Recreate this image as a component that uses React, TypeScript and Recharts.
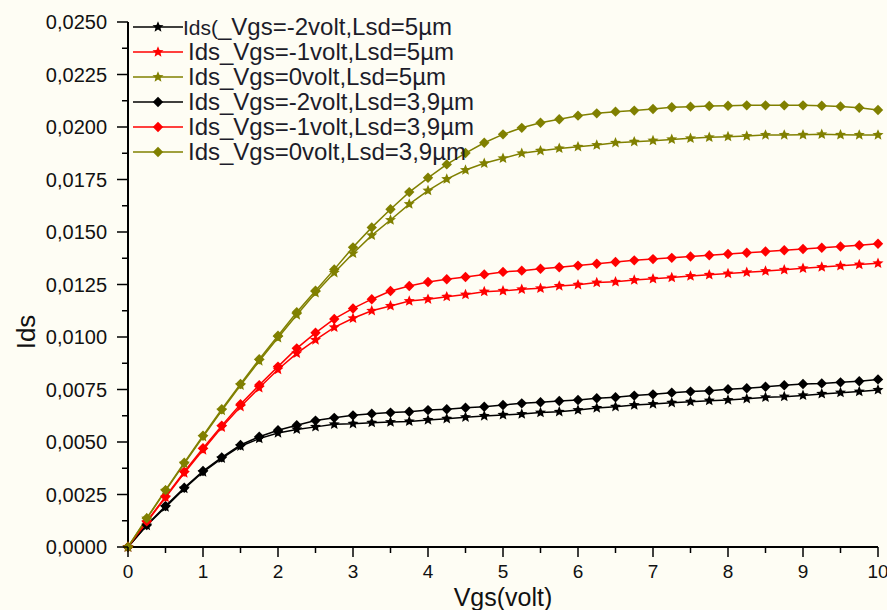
import { Label, Legend, Line, LineChart, XAxis, YAxis } from 'recharts';

// Vgs sweep, 0.25 V step
const vgs = [
  0, 0.25, 0.5, 0.75, 1, 1.25, 1.5, 1.75, 2, 2.25, 2.5, 2.75, 3, 3.25, 3.5, 3.75, 4, 4.25, 4.5, 4.75, 5,
  5.25, 5.5, 5.75, 6, 6.25, 6.5, 6.75, 7, 7.25, 7.5, 7.75, 8, 8.25, 8.5, 8.75, 9, 9.25, 9.5, 9.75, 10,
];

// Lsd = 5 µm (star markers)
const idsVgsM2Lsd5 = [
  0, 0.00102, 0.0019, 0.00278, 0.00357, 0.00422, 0.0048, 0.00516, 0.00543, 0.0056, 0.00572, 0.00584, 0.00587,
  0.00592, 0.00595, 0.00598, 0.00605, 0.00611, 0.00618, 0.00624, 0.00629, 0.00633, 0.0064, 0.00644, 0.00652,
  0.00662, 0.00668, 0.00676, 0.00681, 0.00687, 0.00692, 0.00697, 0.007, 0.00706, 0.00713, 0.00716, 0.00722,
  0.00729, 0.00735, 0.0074, 0.00748,
];
const idsVgsM1Lsd5 = [
  0, 0.00118, 0.00236, 0.00352, 0.00462, 0.0057, 0.00668, 0.00758, 0.00845, 0.00922, 0.00986, 0.01046, 0.01089,
  0.01125, 0.01148, 0.01171, 0.0118, 0.01192, 0.01202, 0.01216, 0.0122, 0.01227, 0.01232, 0.01243, 0.01249,
  0.01259, 0.01263, 0.01271, 0.01277, 0.01283, 0.0129, 0.01296, 0.01302, 0.01308, 0.01314, 0.0132, 0.01327,
  0.01333, 0.01339, 0.01345, 0.01351,
];
const idsVgs0Lsd5 = [
  0, 0.00135, 0.00268, 0.00397, 0.00525, 0.0065, 0.0077, 0.00886, 0.00996, 0.01105, 0.0121, 0.01306, 0.01398,
  0.01484, 0.01557, 0.01633, 0.01697, 0.01752, 0.01795, 0.01827, 0.01851, 0.01875, 0.01887, 0.01898, 0.01906,
  0.01914, 0.01925, 0.0193, 0.01935, 0.01941, 0.01946, 0.01951, 0.01954, 0.01957, 0.01962, 0.01962, 0.01963,
  0.01965, 0.01963, 0.01962, 0.01962,
];

// Lsd = 3,9 µm (diamond markers)
const idsVgsM2Lsd39 = [
  0, 0.00105, 0.00195, 0.00282, 0.00362, 0.00427, 0.00486, 0.00525, 0.00556, 0.0058, 0.00602, 0.00615, 0.00627,
  0.00635, 0.0064, 0.00644, 0.00652, 0.00656, 0.00663, 0.00668, 0.00676, 0.00684, 0.00689, 0.00695, 0.007,
  0.00708, 0.00713, 0.00721, 0.00727, 0.00735, 0.0074, 0.00744, 0.00751, 0.00756, 0.00763, 0.0077, 0.00776,
  0.00779, 0.00784, 0.00789, 0.00798,
];
const idsVgsM1Lsd39 = [
  0, 0.00122, 0.0024, 0.00359, 0.0047, 0.00578, 0.0068, 0.00771, 0.00859, 0.00946, 0.0102, 0.01086, 0.01136,
  0.0118, 0.01219, 0.01243, 0.01262, 0.01275, 0.01286, 0.01298, 0.0131, 0.01316, 0.01325, 0.01332, 0.0134,
  0.01349, 0.01357, 0.01365, 0.01371, 0.01377, 0.01383, 0.01389, 0.01395, 0.01401, 0.01407, 0.01413, 0.01419,
  0.01425, 0.01431, 0.01437, 0.01444,
];
const idsVgs0Lsd39 = [
  0, 0.00137, 0.00271, 0.00401, 0.0053, 0.00656, 0.00776, 0.00894, 0.01006, 0.01118, 0.0122, 0.01322, 0.01427,
  0.01522, 0.01608, 0.0169, 0.01758, 0.01822, 0.01876, 0.01925, 0.01965, 0.01996, 0.0202, 0.02037, 0.02054,
  0.02065, 0.02073, 0.02078, 0.02086, 0.02094, 0.02097, 0.021, 0.02101, 0.02103, 0.02103, 0.02103, 0.02103,
  0.02101, 0.02098, 0.02092, 0.02081,
];

// every other tick is a labelled major tick
const xTicks = [0, 0.5, 1, 1.5, 2, 2.5, 3, 3.5, 4, 4.5, 5, 5.5, 6, 6.5, 7, 7.5, 8, 8.5, 9, 9.5, 10];
const yTicks = [
  0, 0.00125, 0.0025, 0.00375, 0.005, 0.00625, 0.0075, 0.00875, 0.01, 0.01125, 0.0125, 0.01375, 0.015,
  0.01625, 0.0175, 0.01875, 0.02, 0.02125, 0.0225, 0.02375, 0.025,
];

const FONT = '"Liberation Sans", Arial, sans-serif';
const BG = '#fefdf4';

type Marker = 'star' | 'diamond';

const series: { key: string; name: string; color: string; marker: Marker; values: number[] }[] = [
  { key: 'm2l5', name: 'Ids(_Vgs=-2volt,Lsd=5µm', color: '#000000', marker: 'star', values: idsVgsM2Lsd5 },
  { key: 'm1l5', name: 'Ids_Vgs=-1volt,Lsd=5µm', color: '#ff0000', marker: 'star', values: idsVgsM1Lsd5 },
  { key: 'z0l5', name: 'Ids_Vgs=0volt,Lsd=5µm', color: '#808000', marker: 'star', values: idsVgs0Lsd5 },
  { key: 'm2l39', name: 'Ids_Vgs=-2volt,Lsd=3,9µm', color: '#000000', marker: 'diamond', values: idsVgsM2Lsd39 },
  { key: 'm1l39', name: 'Ids_Vgs=-1volt,Lsd=3,9µm', color: '#ff0000', marker: 'diamond', values: idsVgsM1Lsd39 },
  { key: 'z0l39', name: 'Ids_Vgs=0volt,Lsd=3,9µm', color: '#808000', marker: 'diamond', values: idsVgs0Lsd39 },
];

const data = vgs.map((v, i) => {
  const row: Record<string, number> = { vgs: v };
  series.forEach((s) => (row[s.key] = s.values[i]));
  return row;
});

function starPoints(cx: number, cy: number, r: number) {
  const pts: string[] = [];
  for (let k = 0; k < 10; k++) {
    const rad = k % 2 === 0 ? r : r * 0.45;
    const a = -Math.PI / 2 + (k * Math.PI) / 5;
    pts.push(`${cx + rad * Math.cos(a)},${cy + rad * Math.sin(a)}`);
  }
  return pts.join(' ');
}

function MarkerShape({ cx, cy, marker, color }: { cx: number; cy: number; marker: Marker; color: string }) {
  if (marker === 'star') return <polygon points={starPoints(cx, cy, 5.8)} fill={color} />;
  return <polygon points={`${cx},${cy - 5.2} ${cx + 5.2},${cy} ${cx},${cy + 5.2} ${cx - 5.2},${cy}`} fill={color} />;
}

function XTick({ x, y, payload, index }: any) {
  const major = index % 2 === 0;
  return (
    <g>
      <line x1={x} x2={x} y1={y} y2={y + (major ? 10 : 6)} stroke="#000" strokeWidth={1.5} />
      {major && (
        <text x={x} y={y + 31} textAnchor="middle" fontSize={19} fontFamily={FONT} fill="#111">
          {payload.value}
        </text>
      )}
    </g>
  );
}

function YTick({ x, y, payload, index }: any) {
  const major = index % 2 === 0;
  return (
    <g>
      <line x1={x - (major ? 11 : 6)} x2={x} y1={y} y2={y} stroke="#000" strokeWidth={1.5} />
      {major && (
        <text x={x - 21} y={y + 7} textAnchor="end" fontSize={20} fontFamily={FONT} fill="#111">
          {payload.value.toFixed(4).replace('.', ',')}
        </text>
      )}
    </g>
  );
}

function LegendBox() {
  return (
    <svg width={380} height={160} style={{ display: 'block' }}>
      {series.map((s, i) => {
        const cy = 13 + i * 25;
        return (
          <g key={s.key}>
            <line x1={0} x2={50} y1={cy} y2={cy} stroke={s.color} strokeWidth={1.5} />
            <MarkerShape cx={25} cy={cy} marker={s.marker} color={s.color} />
            {i === 0 ? (
              <text x={50} y={cy + 8} fontFamily={FONT} fill="#1c1c2a">
                <tspan fontSize={21}>Ids(</tspan>
                <tspan fontSize={24}>_Vgs=-2volt,Lsd=5µm</tspan>
              </text>
            ) : (
              <text x={55} y={cy + 8} fontSize={24} fontFamily={FONT} fill="#1c1c2a">
                {s.name}
              </text>
            )}
          </g>
        );
      })}
    </svg>
  );
}

export default function App() {
  return (
    <div style={{ position: 'absolute', left: 0, top: 0, width: 887, height: 610, background: BG }}>
      <LineChart width={887} height={610} data={data} margin={{ top: 22, right: 9, bottom: 33, left: 0 }}>
        <XAxis
          dataKey="vgs"
          type="number"
          domain={[0, 10]}
          ticks={xTicks}
          interval={0}
          height={30}
          tickSize={0}
          tickMargin={0}
          tick={<XTick />}
          axisLine={{ stroke: '#000', strokeWidth: 2 }}
        >
          <Label
            content={({ viewBox }: any) => (
              <text
                x={viewBox.x + viewBox.width / 2}
                y={viewBox.y + 59}
                textAnchor="middle"
                fontSize={25}
                fontFamily={FONT}
                fill="#111"
              >
                Vgs(volt)
              </text>
            )}
          />
        </XAxis>
        <YAxis
          type="number"
          domain={[0, 0.025]}
          ticks={yTicks}
          interval={0}
          width={128}
          tickSize={0}
          tickMargin={0}
          tick={<YTick />}
          axisLine={{ stroke: '#000', strokeWidth: 2 }}
        >
          <Label
            content={({ viewBox }: any) => (
              <text
                transform={`translate(${viewBox.x + 26}, ${viewBox.y + 310}) rotate(-90)`}
                textAnchor="middle"
                dominantBaseline="central"
                fontSize={26}
                fontFamily={FONT}
                fill="#111"
              >
                Ids
              </text>
            )}
          />
        </YAxis>
        <Legend
          layout="vertical"
          align="center"
          verticalAlign="middle"
          content={() => <LegendBox />}
          wrapperStyle={{ top: 14, left: 133, width: 380 }}
        />
        {series.map((s) => (
          <Line
            key={s.key}
            dataKey={s.key}
            name={s.name}
            stroke={s.color}
            strokeWidth={1.5}
            isAnimationActive={false}
            dot={(p: any) => <MarkerShape key={`${s.key}-${p.index}`} cx={p.cx} cy={p.cy} marker={s.marker} color={s.color} />}
            activeDot={false}
          />
        ))}
      </LineChart>
    </div>
  );
}
